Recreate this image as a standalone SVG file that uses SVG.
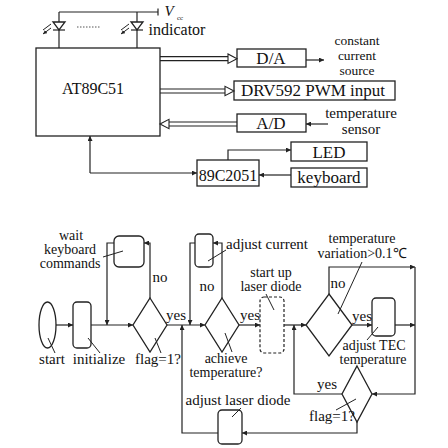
<svg xmlns="http://www.w3.org/2000/svg" width="448" height="448" viewBox="0 0 448 448">
<defs>
<marker id="ah" viewBox="0 0 10 10" refX="10" refY="5" markerWidth="7" markerHeight="5" markerUnits="userSpaceOnUse" orient="auto"><path d="M0,0 L10,5 L0,10 z" fill="#222"/></marker>
<marker id="sm" viewBox="0 0 10 10" refX="10" refY="5" markerWidth="4" markerHeight="4" markerUnits="userSpaceOnUse" orient="auto"><path d="M0,0 L10,5 L0,10 z" fill="#222"/></marker>
<style>
.l{fill:none;stroke:#222;stroke-width:1.2}
.b{fill:#fff;stroke:#222;stroke-width:1.3}
.d{fill:#fff;stroke:#222;stroke-width:1.2;stroke-dasharray:3 2}
.ld{fill:none;stroke:#222;stroke-width:1}
.hol{fill:#fff;stroke:#222;stroke-width:1.1}
.t{font-family:"Liberation Serif","Times New Roman",serif;fill:#111;text-anchor:middle}
.c{font-size:13.5px}
.e{font-size:14px}
.f{font-size:15px}
.g{font-size:17px}
.s{font-size:16px}
</style>
</defs>
<rect width="448" height="448" fill="#fff"/>

<!-- top block diagram -->
<g id="vcc">
<path class="l" d="M59,12 H158 M158,8.5 V15.5"/>
<text x="169" y="16" style="font-family:'Liberation Serif',serif;font-style:italic;font-size:15px;fill:#111" text-anchor="middle">V</text>
<text x="180" y="20" style="font-family:'Liberation Serif',serif;font-size:7px;fill:#111" text-anchor="middle">cc</text>
</g>
<g id="led1">
<path class="l" d="M59,12 V48"/>
<polygon class="b" points="53,22 65,22 59,30"/>
<path class="l" d="M53,30 H65"/>
<path class="ld" d="M51,24 L43,30 M51,28 L43,34" marker-end="url(#sm)"/>
</g>
<g id="led2">
<path class="l" d="M137,12 V48"/>
<polygon class="b" points="131,22 143,22 137,30"/>
<path class="l" d="M131,30 H143"/>
<path class="ld" d="M129,24 L121,30 M129,28 L121,34" marker-end="url(#sm)"/>
</g>
<path d="M77,27 H101" stroke="#555" stroke-width="1" stroke-dasharray="1.5 1.5"/>
<text class="t s" x="177" y="35">indicator</text>

<g id="at89c51">
<rect class="b" x="36" y="48" width="124" height="88"/>
<text class="t s" x="93" y="94">AT89C51</text>
</g>
<g id="da">
<rect class="b" x="237" y="49" width="69" height="18"/>
<text class="t g" x="271" y="64">D/A</text>
</g>
<g id="ccs">
<text class="t c" x="357" y="45">constant</text>
<text class="t c" x="357" y="60">current</text>
<text class="t c" x="357" y="75">source</text>
</g>
<g id="drv">
<rect class="b" x="234" y="81" width="161" height="19"/>
<text class="t g" x="313" y="96">DRV592 PWM input</text>
</g>
<g id="ad">
<rect class="b" x="237" y="114" width="69" height="18"/>
<text class="t g" x="271" y="129">A/D</text>
</g>
<g id="tsensor">
<text class="t f" x="361" y="118">temperature</text>
<text class="t f" x="361" y="134">sensor</text>
</g>
<g id="led">
<rect class="b" x="291" y="142" width="76" height="19"/>
<text class="t g" x="329" y="158">LED</text>
</g>
<g id="c2051">
<rect class="b" x="197" y="160" width="62" height="26"/>
<text class="t s" x="228" y="181">89C2051</text>
</g>
<g id="kbd">
<rect class="b" x="291" y="168" width="76" height="19"/>
<text class="t g" x="329" y="183">keyboard</text>
</g>

<g id="top-connectors">
<path class="l" d="M160,56.7 H228 M160,60.7 H228"/>
<polygon class="hol" points="237,58.7 228,54 228,63.4"/>
<path class="l" d="M160,89 H225 M160,93 H225"/>
<polygon class="hol" points="234,91 225,86.3 225,95.7"/>
<path class="l" d="M237,122 H169 M237,126 H169"/>
<polygon class="hol" points="160,124 169,119.3 169,128.7"/>
<path class="l" d="M306,60 H324" marker-end="url(#ah)"/>
<path class="l" d="M328,124 H306" marker-end="url(#ah)"/>
<path class="l" d="M90,173 V136" marker-end="url(#ah)"/>
<path class="l" d="M90,173 H197" marker-end="url(#ah)"/>
<path class="l" d="M228,160 V150 H291" marker-end="url(#ah)"/>
<path class="l" d="M291,175 H259" marker-end="url(#ah)"/>
</g>

<!-- flowchart -->
<g id="start">
<ellipse class="b" cx="47.5" cy="325" rx="8.5" ry="23"/>
<path class="ld" d="M48,338 L55,353"/>
<text class="t f" x="52" y="364">start</text>
</g>
<g id="init">
<rect class="b" x="73" y="302" width="18" height="46" rx="4"/>
<path class="ld" d="M88,338 L100,353"/>
<text class="t f" x="99" y="364">initialize</text>
</g>
<g id="wait">
<rect class="b" x="114" y="236" width="30" height="31" rx="5"/>
<path class="ld" d="M103,257 L123,251"/>
<text class="t e" x="71" y="240">wait</text>
<text class="t e" x="70" y="254">keyboard</text>
<text class="t e" x="70" y="268">commands</text>
</g>
<g id="flag1">
<polygon class="b" points="150,298 167,325 150,352 133,325"/>
<path class="ld" d="M155,338 L161,353"/>
<text class="t f" x="158" y="364">flag=1?</text>
</g>
<g id="adjcur">
<rect class="b" x="195" y="234" width="18" height="33" rx="4"/>
<path class="ld" d="M226,250 L208,261"/>
<text class="t f" x="267" y="249">adjust current</text>
</g>
<g id="achieve">
<polygon class="b" points="222,298 239,325 222,352 205,325"/>
<path class="ld" d="M225,333 L232,352"/>
<text class="t e" x="226" y="363">achieve</text>
<text class="t e" x="226" y="377">temperature?</text>
</g>
<g id="laser">
<rect class="d" x="260" y="297" width="24" height="56" rx="4"/>
<path class="ld" d="M266,294 L274,310"/>
<text class="t e" x="271" y="277">start up</text>
<text class="t e" x="271" y="291">laser diode</text>
</g>
<g id="tvar">
<polygon class="b" points="329,294 352,325 329,356 306,325"/>
<path class="ld" d="M362,262 L338,314"/>
<text class="t e" x="362" y="243">temperature</text>
<text class="t e" x="362" y="258">variation&gt;0.1℃</text>
</g>
<g id="tec">
<rect class="b" x="372" y="298" width="23" height="38" rx="4"/>
<path class="ld" d="M367,340 L378,327"/>
<text class="t e" x="374" y="350">adjust TEC</text>
<text class="t e" x="373" y="364">temperature</text>
</g>
<g id="flag2">
<polygon class="b" points="357,366 372,394 357,422 342,394"/>
<path class="ld" d="M336,410 L356,399"/>
<text class="t f" x="332" y="421">flag=1?</text>
</g>
<g id="adjlaser">
<rect class="b" x="218" y="410" width="24" height="34" rx="4"/>
<path class="ld" d="M232,417 L241,408"/>
<text class="t f" x="238" y="405">adjust laser diode</text>
</g>

<g id="connectors">
<path class="l" d="M56,325 H73" marker-end="url(#ah)"/>
<path class="l" d="M91,325 H133" marker-end="url(#ah)"/>
<path class="l" d="M114,243 H107 V325" marker-end="url(#ah)"/>
<path class="l" d="M150,298 V243 H144" marker-end="url(#ah)"/>
<path class="l" d="M167,325 H205" marker-end="url(#ah)"/>
<path class="l" d="M195,243 H190 V325" marker-end="url(#ah)"/>
<path class="l" d="M222,298 V243 H213" marker-end="url(#ah)"/>
<path class="l" d="M239,325 H260" marker-end="url(#ah)"/>
<path class="l" d="M284,325 H306" marker-end="url(#ah)"/>
<path class="l" d="M329,294 V267 H415" marker-end="url(#ah)"/>
<path class="l" d="M352,325 H372" marker-end="url(#ah)"/>
<path class="l" d="M395,325 H415" marker-end="url(#ah)"/>
<path class="l" d="M415,267 V394 H372" marker-end="url(#ah)"/>
<path class="l" d="M342,394 H294 V325" marker-end="url(#ah)"/>
<path class="l" d="M357,422 V433 H242" marker-end="url(#ah)"/>
<path class="l" d="M218,433 H182 V325" marker-end="url(#ah)"/>
<text class="t f" x="160" y="282">no</text>
<text class="t f" x="176" y="320">yes</text>
<text class="t f" x="207" y="291">no</text>
<text class="t f" x="250" y="320">yes</text>
<text class="t f" x="338" y="288">no</text>
<text class="t f" x="362" y="321">yes</text>
<text class="t f" x="327" y="389">yes</text>
</g>
</svg>
